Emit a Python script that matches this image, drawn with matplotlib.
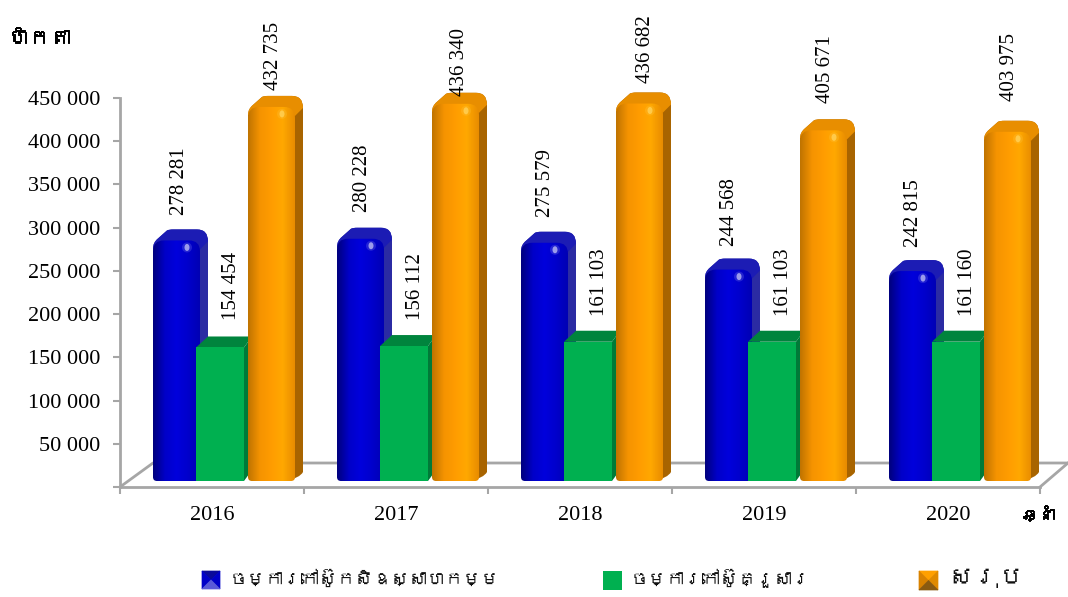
import numpy as np
import matplotlib
matplotlib.use("Agg")
import matplotlib.pyplot as plt
import matplotlib.patheffects as pe
from matplotlib import font_manager, ft2font
from matplotlib.colors import LinearSegmentedColormap
from matplotlib.patches import Ellipse, PathPatch, Polygon, Rectangle
from matplotlib.path import Path

years = ["2016", "2017", "2018", "2019", "2020"]
plantation = [278281, 280228, 275579, 244568, 242815]
family_farm = [154454, 156112, 161103, 161103, 161160]
total = [432735, 436340, 436682, 405671, 403975]

y_ticks = [0, 50000, 100000, 150000, 200000, 250000, 300000, 350000, 400000, 450000]
y_labels = ["", "50 000", "100 000", "150 000", "200 000", "250 000", "300 000", "350 000", "400 000", "450 000"]

y_title = "ហិកតា"
x_title = "ឆ្នាំ"
legend_names = ["ចម្ការកៅស៊ូកសិឧស្សាហកម្ម", "ចម្ការកៅស៊ូគ្រួសារ", "សរុប"]

# how far above each bar top the labels were placed by hand (pixels)
lift_blue = [25, 27, 26, 24, 24]
lift_green = [27, 26, 26, 26, 26]
lift_orange = [17, 8, 21, 27, 31]
nudge_orange = [0, 2, 4, 0, -1]

PX_X = 1 / 184
PX_Y = 450000 / 389
FLOOR = 6 * PX_Y
GRAY = "#A6A6A6"


def khmer_family():
    # use a Khmer font if the machine happens to have one
    for f in font_manager.fontManager.ttflist:
        try:
            if 0x1780 in ft2font.FT2Font(f.fname).get_charmap():
                return [f.name]
        except Exception:
            pass
    return []


serif = ["Liberation Serif", "DejaVu Serif"]
khmer = khmer_family() + serif
plt.rcParams["font.family"] = serif

fig = plt.figure(figsize=(10.68, 5.97), dpi=100, facecolor="white")
ax = fig.add_axes([120 / 1068, 110 / 597, 920 / 1068, 389 / 597])
ax.patch.set_visible(False)


def front_face(x0, x1, top, r=11, low=4):
    rx, ry = r * PX_X, r * PX_Y
    lx, ly = low * PX_X, low * PX_Y
    verts = [(x0 + lx, FLOOR), (x0, FLOOR), (x0, FLOOR + ly), (x0, top - ry), (x0, top), (x0 + rx, top),
             (x1 - rx, top), (x1, top), (x1, top - ry), (x1, FLOOR + ly), (x1, FLOOR), (x1 - lx, FLOOR),
             (x0 + lx, FLOOR)]
    codes = [Path.MOVETO, Path.CURVE3, Path.CURVE3, Path.LINETO, Path.CURVE3, Path.CURVE3,
             Path.LINETO, Path.CURVE3, Path.CURVE3, Path.LINETO, Path.CURVE3, Path.CURVE3, Path.CLOSEPOLY]
    return Path(verts, codes)


def top_edge(x0, x1, top, dx, dy):
    # rounded outline over the lid, left to right, offsets in pixels
    pts = [(x0, top - 8 * PX_Y), (x0, top - 2 * PX_Y), (x0 + 5 * PX_X, top + 2 * PX_Y),
           (x0 + 14 * PX_X, top + dy - 1 * PX_Y), (x0 + 16 * PX_X, top + dy), (x0 + 20 * PX_X, top + dy),
           (x1 + dx - 11 * PX_X, top + dy), (x1 + dx, top + dy), (x1 + dx, top + dy - 12 * PX_Y)]
    codes = [Path.MOVETO, Path.CURVE3, Path.CURVE3, Path.LINETO, Path.CURVE3, Path.CURVE3,
             Path.LINETO, Path.CURVE3, Path.CURVE3]
    return pts, codes


def round_bar(x0, x1, value, colors, side, lid, glint, z):
    top = FLOOR + value
    dx, dy = 8 * PX_X, 11 * PX_Y
    pts, codes = top_edge(x0, x1, top, dx, dy)

    hull = pts + [(x1 + dx, FLOOR + 9 * PX_Y), (x1 + dx - 3 * PX_X, FLOOR + 3 * PX_Y), (x1 - 10 * PX_X, FLOOR),
                  (x0, top - 8 * PX_Y)]
    hull_codes = codes + [Path.LINETO, Path.CURVE3, Path.CURVE3, Path.CLOSEPOLY]
    ax.add_patch(PathPatch(Path(hull, hull_codes), fc=side, ec="none", zorder=z, clip_on=False))

    cover = pts + [(x1, top - 9 * PX_Y), (x0, top - 8 * PX_Y)]
    cover_codes = codes + [Path.LINETO, Path.CLOSEPOLY]
    ax.add_patch(PathPatch(Path(cover, cover_codes), fc=lid, ec="none", zorder=z + 0.05, clip_on=False))

    shape = front_face(x0, x1, top)
    cmap = LinearSegmentedColormap.from_list("bar", colors)
    im = ax.imshow(np.linspace(0, 1, 64).reshape(1, -1), cmap=cmap, aspect="auto",
                   extent=(x0, x1, FLOOR, top), zorder=z + 0.1, clip_on=True)
    im.set_clip_path(PathPatch(shape, transform=ax.transData))

    where = (x1 - 13 * PX_X, top - 7 * PX_Y)
    ax.add_patch(Ellipse(where, 10 * PX_X, 10 * PX_Y, fc=glint, ec="none", alpha=0.14, zorder=z + 0.2, clip_on=False))
    ax.add_patch(Ellipse(where, 5 * PX_X, 7 * PX_Y, fc=glint, ec="none", alpha=0.55, zorder=z + 0.3, clip_on=False))


def flat_bar(x0, x1, value, z):
    top = FLOOR + value
    dx, dy = 8 * PX_X, 11 * PX_Y
    ax.add_patch(Polygon([(x1, FLOOR), (x1 + dx, FLOOR + dy), (x1 + dx, top + dy), (x1, top)],
                         fc="#007A38", ec="none", zorder=z, clip_on=False))
    ax.add_patch(Polygon([(x0, top), (x0 + dx + 4 * PX_X, top + dy), (x1 + dx, top + dy), (x1, top)],
                         fc="#00843D", ec="none", zorder=z, clip_on=False))
    ax.bar((x0 + x1) / 2, value, width=x1 - x0, bottom=FLOOR, color="#00B050", zorder=z + 0.1, clip_on=False)


blue_grad = ["#00007E", "#0000C8", "#0000DC", "#0000CC", "#0000B4"]
orange_grad = ["#C07400", "#F59300", "#FF9C00", "#FFA800", "#E88C00"]

for i in range(len(years)):
    base = 10 * i
    round_bar(i + 33 * PX_X, i + 80 * PX_X, plantation[i], blue_grad, "#2B2BA3", "#1C1CB4", "white", base)
    flat_bar(i + 76 * PX_X, i + 124 * PX_X, family_farm[i], base + 1)
    round_bar(i + 128 * PX_X, i + 175 * PX_X, total[i], orange_grad, "#A86400", "#E88E00", "#FFE27A", base + 2)

    ax.annotate(f"{plantation[i]:,}".replace(",", " "), (i + (59 - i * 0.5) * PX_X, FLOOR + plantation[i]),
                xytext=(0, lift_blue[i] * 0.72), textcoords="offset points", rotation=90, ha="center", va="bottom",
                fontsize=15, annotation_clip=False, zorder=200)
    ax.annotate(f"{family_farm[i]:,}".replace(",", " "), (i + 112 * PX_X, FLOOR + family_farm[i]),
                xytext=(0, lift_green[i] * 0.72), textcoords="offset points", rotation=90, ha="center", va="bottom",
                fontsize=15, annotation_clip=False, zorder=200)
    ax.annotate(f"{total[i]:,}".replace(",", " "), (i + (154 + nudge_orange[i]) * PX_X, FLOOR + total[i]),
                xytext=(0, lift_orange[i] * 0.72), textcoords="offset points", rotation=90, ha="center", va="bottom",
                fontsize=15, annotation_clip=False, zorder=200)

# floor of the 3d box
ax.plot([0, 33 * PX_X, 5 + 28 * PX_X], [0, 24 * PX_Y, 24 * PX_Y], color=GRAY, lw=2, clip_on=False, zorder=-1)
ax.plot([5, 5 + 28 * PX_X], [0, 24 * PX_Y], color=GRAY, lw=2, clip_on=False, zorder=-1)

ax.set_xlim(0, 5)
ax.set_ylim(0, 450000)
for name in ["top", "right"]:
    ax.spines[name].set_visible(False)
for name in ["left", "bottom"]:
    ax.spines[name].set_color(GRAY)
    ax.spines[name].set_linewidth(2)
ax.set_yticks(y_ticks)
ax.set_yticklabels(y_labels, fontsize=16)
ax.set_xticks(range(6))
ax.set_xticklabels([])
ax.set_xticks(np.arange(len(years)) + 0.5, labels=years, minor=True, fontsize=16)
ax.tick_params(axis="both", which="major", color=GRAY, width=1.5, length=5)
ax.tick_params(axis="y", pad=9)
ax.tick_params(axis="x", which="minor", length=0, pad=14)

# legend and axis names are placed in plain pixels
over = fig.add_axes([0, 0, 1, 1], zorder=5)
over.set_xlim(0, 1068)
over.set_ylim(597, 0)
over.axis("off")


def swatch(x, y, s, top_c, left_c, right_c, low_c):
    c = (x + s / 2, y + s / 2)
    a, b, d, e = (x, y), (x + s, y), (x + s, y + s), (x, y + s)
    for pts, col in [((a, b, c), top_c), ((a, e, c), left_c), ((b, d, c), right_c), ((e, d, c), low_c)]:
        over.add_patch(Polygon(pts, fc=col, ec=col, lw=0.5))


swatch(202, 571, 18, "#0A0A9A", "#0000C8", "#0000C8", "#5A5AD8")
over.add_patch(Rectangle((603, 571), 19, 19, fc="#00B050", ec="none"))
swatch(919, 571, 19, "#FFA000", "#D98200", "#E08A00", "#8A5A10")

name_sizes = [13, 13, 18]
for x, name, size in zip([230, 631, 948], legend_names, name_sizes):
    over.text(x, 578, name, family=khmer, fontsize=size, va="center", ha="left", color="#111111")
heavy = [pe.withStroke(linewidth=0.7, foreground="black")]
over.text(8, 38, y_title, family=khmer, fontsize=15, va="center", ha="left", path_effects=heavy)
over.text(1038, 514, x_title, family=khmer, fontsize=12, va="center", ha="center", path_effects=heavy)

fig.savefig("out.png", dpi=100)
